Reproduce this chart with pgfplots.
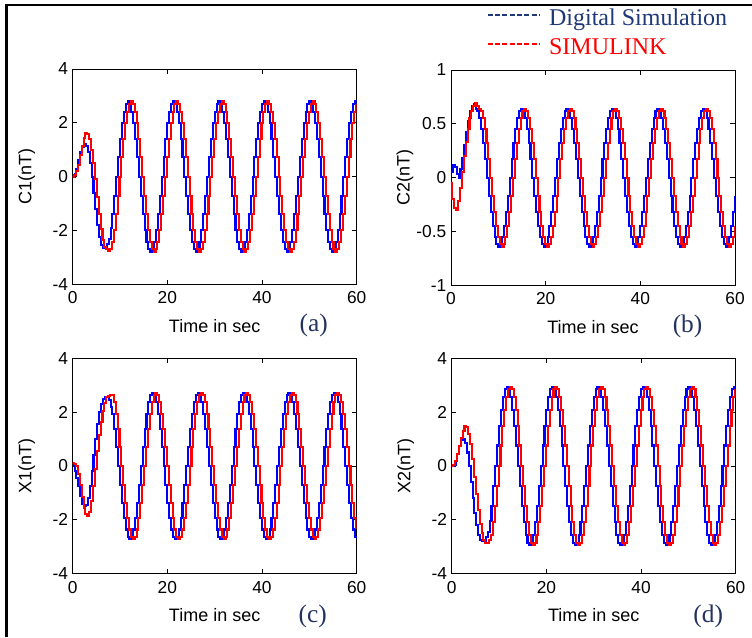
\documentclass[border=0pt]{standalone}
\usepackage{fontspec}
\setmainfont{Liberation Serif}
\setsansfont{Liberation Sans}
\usepackage{pgfplots}
\usepackage{pgfplotstable}
\pgfplotsset{compat=1.18}

\definecolor{mblue}{RGB}{0,0,255}
\definecolor{mred}{RGB}{255,0,0}
\definecolor{navy}{RGB}{31,56,120}
\definecolor{lblc}{RGB}{35,50,95}

% C1 : time, digital simulation, simulink
\pgfplotstableread[row sep=\\]{
t b r\\
0 0 0\\ 0.4 0.1 0.05\\ 0.8 0.3 0.2\\ 1.2 0.6 0.45\\ 1.6 0.9 0.8\\ 2 1.1 1.15\\
2.4 1.2 1.45\\ 2.8 1.15 1.62\\ 3.2 0.9 1.6\\ 3.6 0.5 1.4\\ 4 0 1.0\\ 4.4 -0.6 0.5\\
4.8 -1.2 -0.1\\ 5.2 -1.8 -0.75\\ 5.6 -2.25 -1.4\\ 6 -2.55 -1.95\\ 6.4 -2.65 -2.35\\ 6.8 -2.65 -2.6\\
7.2 -2.5 -2.7\\ 7.6 -2.3 -2.75\\ 8 -1.9 -2.7\\
8.4 -1.40 -2.42\\ 8.8 -0.72 -1.98\\ 9.2 0 -1.40\\ 9.6 0.72 -0.72\\ 10 1.40 0\\ 10.4 1.98 0.72\\
10.8 2.42 1.40\\ 11.2 2.70 1.98\\ 11.6 2.80 2.42\\ 12 2.70 2.70\\ 12.4 2.42 2.80\\ 12.8 1.98 2.70\\
13.2 1.40 2.42\\ 13.6 0.72 1.98\\ 14 0 1.40\\ 14.4 -0.72 0.72\\ 14.8 -1.40 0\\ 15.2 -1.98 -0.72\\
15.6 -2.42 -1.40\\ 16 -2.70 -1.98\\ 16.4 -2.80 -2.42\\ 16.8 -2.70 -2.70\\ 17.2 -2.42 -2.80\\ 17.6 -1.98 -2.70\\
18 -1.40 -2.42\\ 18.4 -0.72 -1.98\\ 18.8 0 -1.40\\ 19.2 0.72 -0.72\\ 19.6 1.40 0\\ 20 1.98 0.72\\
20.4 2.42 1.40\\ 20.8 2.70 1.98\\ 21.2 2.80 2.42\\ 21.6 2.70 2.70\\ 22 2.42 2.80\\ 22.4 1.98 2.70\\
22.8 1.40 2.42\\ 23.2 0.72 1.98\\ 23.6 0 1.40\\ 24 -0.72 0.72\\ 24.4 -1.40 0\\ 24.8 -1.98 -0.72\\
25.2 -2.42 -1.40\\ 25.6 -2.70 -1.98\\ 26 -2.80 -2.42\\ 26.4 -2.70 -2.70\\ 26.8 -2.42 -2.80\\ 27.2 -1.98 -2.70\\
27.6 -1.40 -2.42\\ 28 -0.72 -1.98\\ 28.4 0 -1.40\\ 28.8 0.72 -0.72\\ 29.2 1.40 0\\ 29.6 1.98 0.72\\
30 2.42 1.40\\ 30.4 2.70 1.98\\ 30.8 2.80 2.42\\ 31.2 2.70 2.70\\ 31.6 2.42 2.80\\ 32 1.98 2.70\\
32.4 1.40 2.42\\ 32.8 0.72 1.98\\ 33.2 0 1.40\\ 33.6 -0.72 0.72\\ 34 -1.40 0\\ 34.4 -1.98 -0.72\\
34.8 -2.42 -1.40\\ 35.2 -2.70 -1.98\\ 35.6 -2.80 -2.42\\ 36 -2.70 -2.70\\ 36.4 -2.42 -2.80\\ 36.8 -1.98 -2.70\\
37.2 -1.40 -2.42\\ 37.6 -0.72 -1.98\\ 38 0 -1.40\\ 38.4 0.72 -0.72\\ 38.8 1.40 0\\ 39.2 1.98 0.72\\
39.6 2.42 1.40\\ 40 2.70 1.98\\ 40.4 2.80 2.42\\ 40.8 2.70 2.70\\ 41.2 2.42 2.80\\ 41.6 1.98 2.70\\
42 1.40 2.42\\ 42.4 0.72 1.98\\ 42.8 0 1.40\\ 43.2 -0.72 0.72\\ 43.6 -1.40 0\\ 44 -1.98 -0.72\\
44.4 -2.42 -1.40\\ 44.8 -2.70 -1.98\\ 45.2 -2.80 -2.42\\ 45.6 -2.70 -2.70\\ 46 -2.42 -2.80\\ 46.4 -1.98 -2.70\\
46.8 -1.40 -2.42\\ 47.2 -0.72 -1.98\\ 47.6 0 -1.40\\ 48 0.72 -0.72\\ 48.4 1.40 0\\ 48.8 1.98 0.72\\
49.2 2.42 1.40\\ 49.6 2.70 1.98\\ 50 2.80 2.42\\ 50.4 2.70 2.70\\ 50.8 2.42 2.80\\ 51.2 1.98 2.70\\
51.6 1.40 2.42\\ 52 0.72 1.98\\ 52.4 0 1.40\\ 52.8 -0.72 0.72\\ 53.2 -1.40 0\\ 53.6 -1.98 -0.72\\
54 -2.42 -1.40\\ 54.4 -2.70 -1.98\\ 54.8 -2.80 -2.42\\ 55.2 -2.70 -2.70\\ 55.6 -2.42 -2.80\\ 56 -1.98 -2.70\\
56.4 -1.40 -2.42\\ 56.8 -0.72 -1.98\\ 57.2 0 -1.40\\ 57.6 0.72 -0.72\\ 58 1.40 0\\ 58.4 1.98 0.72\\
58.8 2.42 1.40\\ 59.2 2.70 1.98\\ 59.6 2.80 2.42\\ 60 2.70 2.70\\
}\tabA

% C2
\pgfplotstableread[row sep=\\]{
t b r\\
0 0.05 -0.05\\ 0.4 0.12 -0.2\\ 0.8 0.1 -0.28\\ 1.2 0.03 -0.3\\ 1.6 0 -0.22\\ 2 0.08 -0.1\\
2.4 0.18 0.05\\ 2.8 0.3 0.2\\ 3.2 0.42 0.33\\ 3.6 0.53 0.45\\ 4 0.62 0.55\\ 4.4 0.67 0.62\\
4.8 0.68 0.67\\ 5.2 0.64 0.69\\ 5.6 0.62 0.67\\
6 0.55 0.64\\ 6.4 0.45 0.62\\ 6.8 0.32 0.55\\ 7.2 0.17 0.45\\ 7.6 0 0.32\\ 8 -0.17 0.17\\
8.4 -0.32 0\\ 8.8 -0.45 -0.17\\ 9.2 -0.55 -0.32\\ 9.6 -0.62 -0.45\\ 10 -0.64 -0.55\\ 10.4 -0.62 -0.62\\
10.8 -0.55 -0.64\\ 11.2 -0.45 -0.62\\ 11.6 -0.32 -0.55\\ 12 -0.17 -0.45\\ 12.4 0 -0.32\\ 12.8 0.17 -0.17\\
13.2 0.32 0\\ 13.6 0.45 0.17\\ 14 0.55 0.32\\ 14.4 0.62 0.45\\ 14.8 0.64 0.55\\ 15.2 0.62 0.62\\
15.6 0.55 0.64\\ 16 0.45 0.62\\ 16.4 0.32 0.55\\ 16.8 0.17 0.45\\ 17.2 0 0.32\\ 17.6 -0.17 0.17\\
18 -0.32 0\\ 18.4 -0.45 -0.17\\ 18.8 -0.55 -0.32\\ 19.2 -0.62 -0.45\\ 19.6 -0.64 -0.55\\ 20 -0.62 -0.62\\
20.4 -0.55 -0.64\\ 20.8 -0.45 -0.62\\ 21.2 -0.32 -0.55\\ 21.6 -0.17 -0.45\\ 22 0 -0.32\\ 22.4 0.17 -0.17\\
22.8 0.32 0\\ 23.2 0.45 0.17\\ 23.6 0.55 0.32\\ 24 0.62 0.45\\ 24.4 0.64 0.55\\ 24.8 0.62 0.62\\
25.2 0.55 0.64\\ 25.6 0.45 0.62\\ 26 0.32 0.55\\ 26.4 0.17 0.45\\ 26.8 0 0.32\\ 27.2 -0.17 0.17\\
27.6 -0.32 0\\ 28 -0.45 -0.17\\ 28.4 -0.55 -0.32\\ 28.8 -0.62 -0.45\\ 29.2 -0.64 -0.55\\ 29.6 -0.62 -0.62\\
30 -0.55 -0.64\\ 30.4 -0.45 -0.62\\ 30.8 -0.32 -0.55\\ 31.2 -0.17 -0.45\\ 31.6 0 -0.32\\ 32 0.17 -0.17\\
32.4 0.32 0\\ 32.8 0.45 0.17\\ 33.2 0.55 0.32\\ 33.6 0.62 0.45\\ 34 0.64 0.55\\ 34.4 0.62 0.62\\
34.8 0.55 0.64\\ 35.2 0.45 0.62\\ 35.6 0.32 0.55\\ 36 0.17 0.45\\ 36.4 0 0.32\\ 36.8 -0.17 0.17\\
37.2 -0.32 0\\ 37.6 -0.45 -0.17\\ 38 -0.55 -0.32\\ 38.4 -0.62 -0.45\\ 38.8 -0.64 -0.55\\ 39.2 -0.62 -0.62\\
39.6 -0.55 -0.64\\ 40 -0.45 -0.62\\ 40.4 -0.32 -0.55\\ 40.8 -0.17 -0.45\\ 41.2 0 -0.32\\ 41.6 0.17 -0.17\\
42 0.32 0\\ 42.4 0.45 0.17\\ 42.8 0.55 0.32\\ 43.2 0.62 0.45\\ 43.6 0.64 0.55\\ 44 0.62 0.62\\
44.4 0.55 0.64\\ 44.8 0.45 0.62\\ 45.2 0.32 0.55\\ 45.6 0.17 0.45\\ 46 0 0.32\\ 46.4 -0.17 0.17\\
46.8 -0.32 0\\ 47.2 -0.45 -0.17\\ 47.6 -0.55 -0.32\\ 48 -0.62 -0.45\\ 48.4 -0.64 -0.55\\ 48.8 -0.62 -0.62\\
49.2 -0.55 -0.64\\ 49.6 -0.45 -0.62\\ 50 -0.32 -0.55\\ 50.4 -0.17 -0.45\\ 50.8 0 -0.32\\ 51.2 0.17 -0.17\\
51.6 0.32 0\\ 52 0.45 0.17\\ 52.4 0.55 0.32\\ 52.8 0.62 0.45\\ 53.2 0.64 0.55\\ 53.6 0.62 0.62\\
54 0.55 0.64\\ 54.4 0.45 0.62\\ 54.8 0.32 0.55\\ 55.2 0.17 0.45\\ 55.6 0 0.32\\ 56 -0.17 0.17\\
56.4 -0.32 0\\ 56.8 -0.45 -0.17\\ 57.2 -0.55 -0.32\\ 57.6 -0.62 -0.45\\ 58 -0.64 -0.55\\ 58.4 -0.62 -0.62\\
58.8 -0.55 -0.64\\ 59.2 -0.45 -0.62\\ 59.6 -0.32 -0.55\\ 60 -0.17 -0.45\\
}\tabB

% X1
\pgfplotstableread[row sep=\\]{
t b r\\
0 0 0.1\\ 0.4 -0.2 0.08\\ 0.8 -0.45 0\\ 1.2 -0.75 -0.3\\ 1.6 -1.1 -0.7\\ 2 -1.4 -1.15\\
2.4 -1.5 -1.55\\ 2.8 -1.45 -1.8\\ 3.2 -1.2 -1.85\\ 3.6 -0.75 -1.7\\ 4 -0.2 -1.3\\ 4.4 0.4 -0.75\\
4.8 1.0 -0.1\\ 5.2 1.55 0.55\\ 5.6 2.0 1.15\\ 6 2.3 1.65\\ 6.4 2.5 2.05\\ 6.8 2.55 2.35\\
7.2 2.55 2.55\\ 7.6 2.45 2.6\\ 8 2.2 2.62\\
8.4 1.92 2.63\\ 8.8 1.36 2.36\\ 9.2 0.70 1.92\\ 9.6 0 1.36\\ 10 -0.70 0.70\\ 10.4 -1.36 0\\
10.8 -1.92 -0.70\\ 11.2 -2.36 -1.36\\ 11.6 -2.63 -1.92\\ 12 -2.72 -2.36\\ 12.4 -2.63 -2.63\\ 12.8 -2.36 -2.72\\
13.2 -1.92 -2.63\\ 13.6 -1.36 -2.36\\ 14 -0.70 -1.92\\ 14.4 0 -1.36\\ 14.8 0.70 -0.70\\ 15.2 1.36 0\\
15.6 1.92 0.70\\ 16 2.36 1.36\\ 16.4 2.63 1.92\\ 16.8 2.72 2.36\\ 17.2 2.63 2.63\\ 17.6 2.36 2.72\\
18 1.92 2.63\\ 18.4 1.36 2.36\\ 18.8 0.70 1.92\\ 19.2 0 1.36\\ 19.6 -0.70 0.70\\ 20 -1.36 0\\
20.4 -1.92 -0.70\\ 20.8 -2.36 -1.36\\ 21.2 -2.63 -1.92\\ 21.6 -2.72 -2.36\\ 22 -2.63 -2.63\\ 22.4 -2.36 -2.72\\
22.8 -1.92 -2.63\\ 23.2 -1.36 -2.36\\ 23.6 -0.70 -1.92\\ 24 0 -1.36\\ 24.4 0.70 -0.70\\ 24.8 1.36 0\\
25.2 1.92 0.70\\ 25.6 2.36 1.36\\ 26 2.63 1.92\\ 26.4 2.72 2.36\\ 26.8 2.63 2.63\\ 27.2 2.36 2.72\\
27.6 1.92 2.63\\ 28 1.36 2.36\\ 28.4 0.70 1.92\\ 28.8 0 1.36\\ 29.2 -0.70 0.70\\ 29.6 -1.36 0\\
30 -1.92 -0.70\\ 30.4 -2.36 -1.36\\ 30.8 -2.63 -1.92\\ 31.2 -2.72 -2.36\\ 31.6 -2.63 -2.63\\ 32 -2.36 -2.72\\
32.4 -1.92 -2.63\\ 32.8 -1.36 -2.36\\ 33.2 -0.70 -1.92\\ 33.6 0 -1.36\\ 34 0.70 -0.70\\ 34.4 1.36 0\\
34.8 1.92 0.70\\ 35.2 2.36 1.36\\ 35.6 2.63 1.92\\ 36 2.72 2.36\\ 36.4 2.63 2.63\\ 36.8 2.36 2.72\\
37.2 1.92 2.63\\ 37.6 1.36 2.36\\ 38 0.70 1.92\\ 38.4 0 1.36\\ 38.8 -0.70 0.70\\ 39.2 -1.36 0\\
39.6 -1.92 -0.70\\ 40 -2.36 -1.36\\ 40.4 -2.63 -1.92\\ 40.8 -2.72 -2.36\\ 41.2 -2.63 -2.63\\ 41.6 -2.36 -2.72\\
42 -1.92 -2.63\\ 42.4 -1.36 -2.36\\ 42.8 -0.70 -1.92\\ 43.2 0 -1.36\\ 43.6 0.70 -0.70\\ 44 1.36 0\\
44.4 1.92 0.70\\ 44.8 2.36 1.36\\ 45.2 2.63 1.92\\ 45.6 2.72 2.36\\ 46 2.63 2.63\\ 46.4 2.36 2.72\\
46.8 1.92 2.63\\ 47.2 1.36 2.36\\ 47.6 0.70 1.92\\ 48 0 1.36\\ 48.4 -0.70 0.70\\ 48.8 -1.36 0\\
49.2 -1.92 -0.70\\ 49.6 -2.36 -1.36\\ 50 -2.63 -1.92\\ 50.4 -2.72 -2.36\\ 50.8 -2.63 -2.63\\ 51.2 -2.36 -2.72\\
51.6 -1.92 -2.63\\ 52 -1.36 -2.36\\ 52.4 -0.70 -1.92\\ 52.8 0 -1.36\\ 53.2 0.70 -0.70\\ 53.6 1.36 0\\
54 1.92 0.70\\ 54.4 2.36 1.36\\ 54.8 2.63 1.92\\ 55.2 2.72 2.36\\ 55.6 2.63 2.63\\ 56 2.36 2.72\\
56.4 1.92 2.63\\ 56.8 1.36 2.36\\ 57.2 0.70 1.92\\ 57.6 0 1.36\\ 58 -0.70 0.70\\ 58.4 -1.36 0\\
58.8 -1.92 -0.70\\ 59.2 -2.36 -1.36\\ 59.6 -2.63 -1.92\\ 60 -2.72 -2.36\\
}\tabC

% X2
\pgfplotstableread[row sep=\\]{
t b r\\
0 0 0\\ 0.4 0.05 0.05\\ 0.8 0.2 0.2\\ 1.2 0.45 0.45\\ 1.6 0.75 0.75\\ 2 0.95 1.05\\
2.4 1.0 1.3\\ 2.8 0.85 1.48\\ 3.2 0.5 1.45\\ 3.6 0 1.2\\ 4 -0.6 0.8\\ 4.4 -1.2 0.25\\
4.8 -1.75 -0.4\\ 5.2 -2.2 -1.05\\ 5.6 -2.55 -1.65\\ 6 -2.75 -2.15\\ 6.4 -2.8 -2.5\\ 6.8 -2.8 -2.75\\
7.2 -2.65 -2.85\\ 7.6 -2.45 -2.85\\ 8 -2.05 -2.75\\
8.4 -1.48 -2.55\\ 8.8 -0.76 -2.09\\ 9.2 0 -1.48\\ 9.6 0.76 -0.76\\ 10 1.48 0\\ 10.4 2.09 0.76\\
10.8 2.55 1.48\\ 11.2 2.85 2.09\\ 11.6 2.95 2.55\\ 12 2.85 2.85\\ 12.4 2.55 2.95\\ 12.8 2.09 2.85\\
13.2 1.48 2.55\\ 13.6 0.76 2.09\\ 14 0 1.48\\ 14.4 -0.76 0.76\\ 14.8 -1.48 0\\ 15.2 -2.09 -0.76\\
15.6 -2.55 -1.48\\ 16 -2.85 -2.09\\ 16.4 -2.95 -2.55\\ 16.8 -2.85 -2.85\\ 17.2 -2.55 -2.95\\ 17.6 -2.09 -2.85\\
18 -1.48 -2.55\\ 18.4 -0.76 -2.09\\ 18.8 0 -1.48\\ 19.2 0.76 -0.76\\ 19.6 1.48 0\\ 20 2.09 0.76\\
20.4 2.55 1.48\\ 20.8 2.85 2.09\\ 21.2 2.95 2.55\\ 21.6 2.85 2.85\\ 22 2.55 2.95\\ 22.4 2.09 2.85\\
22.8 1.48 2.55\\ 23.2 0.76 2.09\\ 23.6 0 1.48\\ 24 -0.76 0.76\\ 24.4 -1.48 0\\ 24.8 -2.09 -0.76\\
25.2 -2.55 -1.48\\ 25.6 -2.85 -2.09\\ 26 -2.95 -2.55\\ 26.4 -2.85 -2.85\\ 26.8 -2.55 -2.95\\ 27.2 -2.09 -2.85\\
27.6 -1.48 -2.55\\ 28 -0.76 -2.09\\ 28.4 0 -1.48\\ 28.8 0.76 -0.76\\ 29.2 1.48 0\\ 29.6 2.09 0.76\\
30 2.55 1.48\\ 30.4 2.85 2.09\\ 30.8 2.95 2.55\\ 31.2 2.85 2.85\\ 31.6 2.55 2.95\\ 32 2.09 2.85\\
32.4 1.48 2.55\\ 32.8 0.76 2.09\\ 33.2 0 1.48\\ 33.6 -0.76 0.76\\ 34 -1.48 0\\ 34.4 -2.09 -0.76\\
34.8 -2.55 -1.48\\ 35.2 -2.85 -2.09\\ 35.6 -2.95 -2.55\\ 36 -2.85 -2.85\\ 36.4 -2.55 -2.95\\ 36.8 -2.09 -2.85\\
37.2 -1.48 -2.55\\ 37.6 -0.76 -2.09\\ 38 0 -1.48\\ 38.4 0.76 -0.76\\ 38.8 1.48 0\\ 39.2 2.09 0.76\\
39.6 2.55 1.48\\ 40 2.85 2.09\\ 40.4 2.95 2.55\\ 40.8 2.85 2.85\\ 41.2 2.55 2.95\\ 41.6 2.09 2.85\\
42 1.48 2.55\\ 42.4 0.76 2.09\\ 42.8 0 1.48\\ 43.2 -0.76 0.76\\ 43.6 -1.48 0\\ 44 -2.09 -0.76\\
44.4 -2.55 -1.48\\ 44.8 -2.85 -2.09\\ 45.2 -2.95 -2.55\\ 45.6 -2.85 -2.85\\ 46 -2.55 -2.95\\ 46.4 -2.09 -2.85\\
46.8 -1.48 -2.55\\ 47.2 -0.76 -2.09\\ 47.6 0 -1.48\\ 48 0.76 -0.76\\ 48.4 1.48 0\\ 48.8 2.09 0.76\\
49.2 2.55 1.48\\ 49.6 2.85 2.09\\ 50 2.95 2.55\\ 50.4 2.85 2.85\\ 50.8 2.55 2.95\\ 51.2 2.09 2.85\\
51.6 1.48 2.55\\ 52 0.76 2.09\\ 52.4 0 1.48\\ 52.8 -0.76 0.76\\ 53.2 -1.48 0\\ 53.6 -2.09 -0.76\\
54 -2.55 -1.48\\ 54.4 -2.85 -2.09\\ 54.8 -2.95 -2.55\\ 55.2 -2.85 -2.85\\ 55.6 -2.55 -2.95\\ 56 -2.09 -2.85\\
56.4 -1.48 -2.55\\ 56.8 -0.76 -2.09\\ 57.2 0 -1.48\\ 57.6 0.76 -0.76\\ 58 1.48 0\\ 58.4 2.09 0.76\\
58.8 2.55 1.48\\ 59.2 2.85 2.09\\ 59.6 2.95 2.55\\ 60 2.85 2.85\\
}\tabD

\pgfplotsset{
  panel/.style={
    scale only axis, width=213pt, height=161.5pt,
    xmin=0, xmax=60, xtick={0,20,40,60},
    tick align=inside, tick pos=both,
    major tick length=3.5pt,
    axis line style={black, line width=0.7pt},
    tick style={black, line width=0.6pt},
    /pgf/number format/assume math mode=true,
    ticklabel style={font=\sffamily\fontsize{13}{15}\selectfont},
    xticklabel style={yshift=-2pt},
    label style={font=\sffamily\fontsize{13.5}{16}\selectfont},
    xlabel={Time in sec},
    xlabel style={at={(axis description cs:0.5,-0.224)}, anchor=base},
    ylabel style={at={(axis description cs:-0.162,0.5)}, anchor=center},
  },
  sb/.style={const plot, draw=mblue, line width=1.55pt, line join=miter},
  sr/.style={const plot, draw=mred, line width=1.55pt, line join=miter},
}
\tikzset{tag/.style={font=\rmfamily\fontsize{19}{22}\selectfont, text=lblc, anchor=base}}

\begin{document}
\begin{tikzpicture}
\useasboundingbox (0,0) rectangle (564pt,-477.75pt);
\draw[line width=1.6pt] (4.9pt,-477.75pt) -- (4.9pt,-3.75pt) -- (564pt,-3.75pt);

\begin{axis}[panel, at={(54.5pt,-51.75pt)}, anchor=north west,
  ymin=-4, ymax=4, ytick={-4,-2,0,2,4}, ylabel={C1(nT)},
  after end axis/.code={\node[tag] at (axis description cs:0.849,-0.218) {(a)};}]
\addplot[sb] table[x=t, y=b] {\tabA};
\addplot[sr] table[x expr=\thisrow{t}-0.1, y=r] {\tabA};
\end{axis}

\begin{axis}[panel, at={(338.25pt,-52.5pt)}, anchor=north west,
  ymin=-1, ymax=1, ytick={-1,-0.5,0,0.5,1}, ylabel={C2(nT)},
  after end axis/.code={\node[tag] at (axis description cs:0.833,-0.218) {(b)};},
  legend cell align=left,
  legend image code/.code={\path (0pt,0pt); \draw[#1] (0pt,3.75pt) -- (39pt,3.75pt);},
  legend style={draw=none, fill=none, inner sep=0pt, outer sep=0pt,
    row sep=4.75pt, column sep=6.75pt,
    nodes={inner sep=0pt, text height=13pt, text depth=4pt},
    font=\rmfamily\fontsize{18}{21}\selectfont,
    at={(axis description cs:0.127,1.045)}, anchor=south west}]
\addlegendimage{navy, line width=0.8pt, dash pattern=on 3.8pt off 1.7pt}
\addlegendentry{\textcolor{navy}{Digital Simulation}}
\addlegendimage{mred, line width=0.8pt, dash pattern=on 3.8pt off 1.7pt}
\addlegendentry{\textcolor{mred}{SIMULINK}}
\addplot[sb, forget plot] table[x=t, y=b] {\tabB};
\addplot[sr, forget plot] table[x expr=\thisrow{t}-0.1, y=r] {\tabB};
\end{axis}

\begin{axis}[panel, at={(54.5pt,-268.7pt)}, anchor=north west,
  ymin=-4, ymax=4, ytick={-4,-2,0,2,4}, ylabel={X1(nT)},
  after end axis/.code={\node[tag] at (axis description cs:0.845,-0.226) {(c)};}]
\addplot[sb] table[x=t, y=b] {\tabC};
\addplot[sr] table[x expr=\thisrow{t}-0.1, y=r] {\tabC};
\end{axis}

\begin{axis}[panel, at={(338.8pt,-268.7pt)}, anchor=north west,
  ymin=-4, ymax=4, ytick={-4,-2,0,2,4}, ylabel={X2(nT)},
  after end axis/.code={\node[tag] at (axis description cs:0.903,-0.226) {(d)};}]
\addplot[sb] table[x=t, y=b] {\tabD};
\addplot[sr] table[x expr=\thisrow{t}-0.1, y=r] {\tabD};
\end{axis}
\end{tikzpicture}
\end{document}
